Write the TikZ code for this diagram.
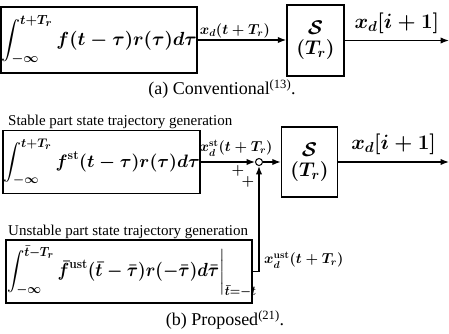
\documentclass[tikz,border=0pt]{standalone}
\usepackage[no-math]{fontspec}
\setmainfont{Liberation Serif}
\usepackage{amsmath,graphicx}
\usetikzlibrary{arrows.meta,positioning}
\newcommand{\blkmath}[2][1.1]{\scalebox{#1}{$\displaystyle#2$}}

\begin{document}
\boldmath
\begin{tikzpicture}[>=Latex,x=1pt,y=-1pt]
  \tikzstyle{blk}=[draw,line width=1.5pt,inner sep=0pt,align=center]
  \tikzstyle{sig}=[line width=1.2pt]
  \tikzstyle{bigm}=[font=\fontsize{17.28}{22}\selectfont]
  \tikzstyle{outm}=[font=\fontsize{20.74}{24}\selectfont]
  \tikzstyle{smallm}=[font=\fontsize{14.4}{16}\selectfont,inner sep=1pt]
  \tikzstyle{note}=[font=\fontsize{15}{17}\selectfont,inner sep=0pt]
  \tikzstyle{capt}=[font=\fontsize{18}{20}\selectfont,inner sep=0pt]
  \useasboundingbox (0,0) rectangle (449,334);
  % (a) conventional
  \node[blk,bigm,minimum width=184pt,minimum height=66pt] (conv) at (99,40)
    {\blkmath{\int_{-\infty}^{t+T_r} f(t-\tau)r(\tau)d\tau}};
  \node[blk,bigm,minimum width=57pt,minimum height=71pt] (sa) at (315.5,40.5)
    {\blkmath[1.15]{\mathcal{S}}\\[-2pt]\blkmath[1.15]{(T_r)}};
  \coordinate (outa) at (449,40.5);
  \draw[sig,->] (conv.east) -- node[smallm,above,pos=0.42] (lxa) {$x_d(t+T_r)$} (conv.east -| sa.west);
  \draw[sig,->] (sa.east) -- node[outm,above=3pt] (lya) {$x_d[i+1]$} (outa);
  \node[capt] (capa) at (222,89) {(a) Conventional\textsuperscript{(13)}.};
  % (b) proposed
  \node[note,anchor=base west] (tst) at (8,125) {Stable part state trajectory generation};
  \node[blk,bigm,minimum width=191pt,minimum height=63pt] (stab) at (101.5,162)
    {\blkmath[1.04]{\int_{-\infty}^{t+T_r} f^{\mathbf{st}}(t-\tau)r(\tau)d\tau}};
  \node[draw,circle,line width=1pt,inner sep=0pt,minimum size=7pt] (sum) at (259,162) {};
  \node[blk,bigm,minimum width=56pt,minimum height=70pt] (sb) at (309.5,162)
    {\blkmath[1.15]{\mathcal{S}}\\[-2pt]\blkmath[1.15]{(T_r)}};
  \coordinate (outb) at (449,162);
  \draw[sig,->] (stab.east) -- (sum.west);
  \node[smallm] (lxst) at (236,148) {$x_d^{\mathbf{st}}(t+T_r)$};
  \node[note] (pa) at (238,171) {$+$};
  \node[note] (pb) at (248,182) {$+$};
  \draw[sig,->] (sum.east) -- (sb.west);
  \draw[sig,->] (sb.east) -- node[outm,above=3pt] (lyb) {$x_d[i+1]$} (outb);
  \node[note,anchor=base west] (tun) at (8,235) {Unstable part state trajectory generation};
  \node[blk,bigm,minimum width=246pt,minimum height=63pt] (unst) at (129,271.5)
    {\makebox[246pt][l]{\hspace{1pt}\scalebox{1.0}[1.1]{$\displaystyle\int_{-\infty}^{\bar t-T_r} \bar f^{\mathbf{ust}}(\bar t-\bar\tau)r(-\bar\tau)d\bar\tau\bigg|_{\bar t=-t}$}}};
  \draw[sig,->] (unst.east) -| (sum.south);
  \node[smallm,anchor=west] (lxun) at (263,260) {$x_d^{\mathbf{ust}}(t+T_r)$};
  \node[capt] (capb) at (225,320) {(b) Proposed\textsuperscript{(21)}.};
\end{tikzpicture}
\end{document}
